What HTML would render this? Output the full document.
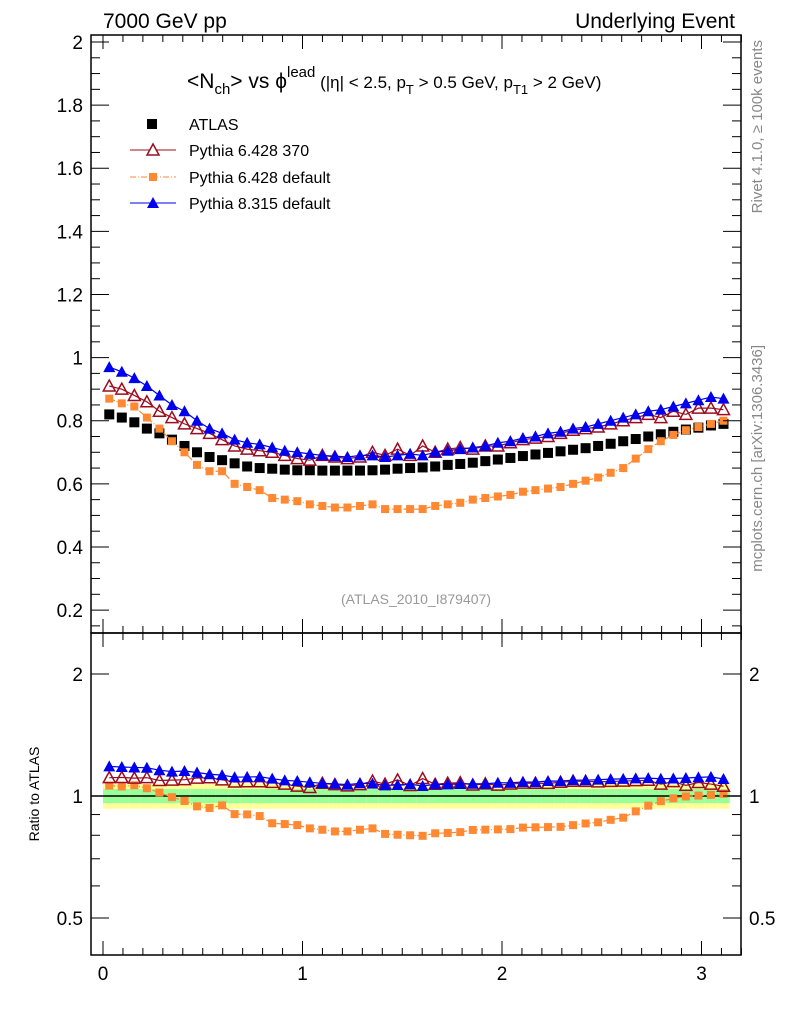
<!DOCTYPE html>
<html><head><meta charset="utf-8"><style>
body{margin:0;background:#fff;}
svg{display:block;font-family:"Liberation Sans",sans-serif;}
</style></head><body>
<svg id="c" width="786" height="1024" xmlns="http://www.w3.org/2000/svg"></svg>
<script>
const atlas=[0.82,0.81,0.795,0.775,0.76,0.74,0.72,0.70,0.685,0.675,0.665,0.655,0.65,0.648,0.645,0.643,0.643,0.642,0.642,0.642,0.642,0.643,0.645,0.648,0.65,0.652,0.655,0.66,0.663,0.667,0.672,0.677,0.682,0.688,0.693,0.698,0.703,0.708,0.713,0.72,0.727,0.735,0.742,0.75,0.757,0.765,0.772,0.778,0.785,0.79];
const p6def=[0.87,0.855,0.845,0.81,0.775,0.735,0.70,0.66,0.64,0.64,0.60,0.59,0.58,0.555,0.55,0.545,0.535,0.53,0.525,0.525,0.53,0.535,0.52,0.52,0.52,0.52,0.53,0.535,0.54,0.55,0.555,0.56,0.565,0.575,0.58,0.585,0.59,0.60,0.61,0.62,0.635,0.65,0.68,0.71,0.735,0.755,0.77,0.78,0.79,0.80];
const p8=[0.97,0.955,0.935,0.91,0.88,0.85,0.83,0.80,0.775,0.76,0.74,0.73,0.725,0.715,0.705,0.70,0.695,0.69,0.688,0.685,0.69,0.69,0.685,0.69,0.695,0.69,0.70,0.705,0.71,0.715,0.72,0.73,0.735,0.745,0.75,0.76,0.765,0.775,0.78,0.79,0.80,0.81,0.82,0.83,0.835,0.845,0.855,0.865,0.875,0.87];
const p6370=[0.91,0.90,0.88,0.86,0.83,0.81,0.79,0.775,0.76,0.74,0.72,0.71,0.705,0.70,0.69,0.68,0.675,0.69,0.685,0.68,0.685,0.70,0.69,0.71,0.69,0.72,0.70,0.71,0.715,0.71,0.72,0.72,0.73,0.74,0.745,0.75,0.76,0.77,0.775,0.78,0.79,0.80,0.81,0.82,0.81,0.83,0.82,0.84,0.84,0.835];
const bandInner=0.04, bandOuter=0.07;
const xTicks=[0,1,2,3];
const yTicks=[0.2,0.4,0.6,0.8,1,1.2,1.4,1.6,1.8,2];
const rTicks=[0.5,1,2];

const S=document.getElementById('c');const NS='http://www.w3.org/2000/svg';
function el(t,a,p){const e=document.createElementNS(NS,t);for(const k in a)e.setAttribute(k,a[k]);(p||S).appendChild(e);return e;}
const L=91,R=741,T=35,M=633,B=955;
const X=v=>103+v*199.5;
const Y=v=>42+(2-v)*315.6;
const RY=v=>796-Math.log2(v)*122;
const N=atlas.length,w=Math.PI/N;
const xs=atlas.map((_,i)=>(i+0.5)*w);

for(let i=0;i<N;i++){
 const x0=X(i*w),x1=X((i+1)*w);
 const b=el('rect',{x:x0,y:RY(1+bandOuter),width:x1-x0,height:RY(1-bandOuter)-RY(1+bandOuter),fill:'#ffff99'});
 
 const g=el('rect',{x:x0,y:RY(1+bandInner),width:x1-x0,height:RY(1-bandInner)-RY(1+bandInner),fill:'#99ff99'});
 
}
el('line',{x1:L,x2:R,y1:RY(1),y2:RY(1),stroke:'#000','stroke-width':1.5});

function marker(type,x,y,color){
 let e;
 if(type==='sq') e=el('rect',{x:x-5,y:y-5,width:10,height:10,fill:color});
 else if(type==='osq') e=el('rect',{x:x-4,y:y-4,width:8,height:8,fill:color});
 else if(type==='tri') e=el('polygon',{points:`${x},${y-6} ${x-6},${y+5} ${x+6},${y+5}`,fill:color});
 else e=el('polygon',{points:`${x},${y-6} ${x-6},${y+5} ${x+6},${y+5}`,fill:'none',stroke:color,'stroke-width':1.5});
 return e;
}
function series(vals,name,color,type,dash,ratio){
 const yf=ratio?RY:Y;
 const v=ratio?vals.map((d,i)=>d/atlas[i]):vals;
 if(color!=='#000'){
  const pl=el('polyline',{points:v.map((d,i)=>X(xs[i])+','+yf(d)).join(' '),fill:'none',stroke:color,'stroke-width':1.2,'stroke-dasharray':dash||'none'});
  
 }
 v.forEach((d,i)=>{const m=marker(type,X(xs[i]),yf(d),color);
  });
}
series(atlas,'atlas','#000','sq',null,false);
series(p6def,'pythia6-default','#ff8833','osq','6,2,1,2',false);
series(p6370,'pythia6-370','#9c0c1f','otri',null,false);
series(p8,'pythia8-default','#0000ee','tri',null,false);
series(p6def,'ratio-pythia6-default','#ff8833','osq','6,2,1,2',true);
series(p6370,'ratio-pythia6-370','#9c0c1f','otri',null,true);
series(p8,'ratio-pythia8-default','#0000ee','tri',null,true);

el('rect',{x:L,y:T,width:R-L,height:M-T,fill:'none',stroke:'#000','stroke-width':1.5});
el('rect',{x:L,y:M,width:R-L,height:B-M,fill:'none',stroke:'#000','stroke-width':1.5});

for(let v=-0.0;v<=3.2;v=Math.round((v+0.1)*10)/10){
 const big=Math.abs(v-Math.round(v))<1e-6; const len=big?14:7; const x=X(v);
 [[T,1],[M,-1],[M,1],[B,-1]].forEach(([y0,s])=>el('line',{x1:x,x2:x,y1:y0,y2:y0+s*len,stroke:'#000'}));
}
xTicks.forEach(v=>{const t=el('text',{x:X(v),y:980,'font-size':19,'text-anchor':'middle'});t.textContent=v;
 });
for(let v=0.15;v<=2.02;v=Math.round((v+0.05)*100)/100){
 const big=Math.abs(v*5-Math.round(v*5))<1e-6;const len=big?18:9;const y=Y(v);
 el('line',{x1:L,x2:L+len,y1:y,y2:y,stroke:'#000'});el('line',{x1:R,x2:R-len,y1:y,y2:y,stroke:'#000'});
}
yTicks.forEach(v=>{const t=el('text',{x:83,y:Y(v)+7,'font-size':19,'text-anchor':'end'});t.textContent=v;
 });
[0.5,0.6,0.7,0.8,0.9,1,2].forEach(v=>{const big=rTicks.includes(v);const len=big?18:9;const y=RY(v);
 el('line',{x1:L,x2:L+len,y1:y,y2:y,stroke:'#000'});el('line',{x1:R,x2:R-len,y1:y,y2:y,stroke:'#000'});});
rTicks.forEach(v=>{[[83,'end'],[749,'start']].forEach(([x,a])=>{const t=el('text',{x:x,y:RY(v)+7,'font-size':19,'text-anchor':a});t.textContent=v;
 });});
</script>
<svg width="786" height="1024" style="position:absolute;left:0;top:0;font-family:'Liberation Sans',sans-serif">
<text x="103" y="28" font-size="21">7000 GeV pp</text>
<text x="735" y="28" font-size="21" text-anchor="end">Underlying Event</text>
<text x="187" y="88" font-size="21">&lt;N<tspan font-size="15" dy="6">ch</tspan><tspan dy="-6">&gt; vs ϕ</tspan><tspan font-size="15" dy="-11">lead</tspan><tspan font-size="17" dy="11"> (|η| &lt; 2.5, p</tspan><tspan font-size="13" dy="6">T</tspan><tspan font-size="17" dy="-6"> &gt; 0.5 GeV, p</tspan><tspan font-size="13" dy="6">T1</tspan><tspan font-size="17" dy="-6"> &gt; 2 GeV)</tspan></text>
<g font-size="16">
<rect x="147" y="119" width="10" height="10" fill="#000"/><text x="189" y="130">ATLAS</text>
<line x1="130" x2="176" y1="150" y2="150" stroke="#9c0c1f"/><polygon points="153,144 147,155 159,155" fill="#fff" stroke="#9c0c1f" stroke-width="1.5"/><text x="189" y="156">Pythia 6.428 370</text>
<line x1="130" x2="176" y1="177" y2="177" stroke="#ff8833" stroke-dasharray="6,2,1,2"/><rect x="149" y="173" width="8" height="8" fill="#ff8833"/><text x="189" y="183">Pythia 6.428 default</text>
<line x1="130" x2="176" y1="203" y2="203" stroke="#0000ee"/><polygon points="153,197 147,208 159,208" fill="#0000ee"/><text x="189" y="209">Pythia 8.315 default</text>
</g>
<text x="416" y="604" font-size="14" fill="#999" text-anchor="middle">(ATLAS_2010_I879407)</text>
<text transform="translate(39,794) rotate(-90)" font-size="14" text-anchor="middle">Ratio to ATLAS</text>
<text transform="translate(762,40) rotate(-90)" font-size="15" fill="#888" text-anchor="end">Rivet 4.1.0, ≥ 100k events</text>
<text transform="translate(762,345) rotate(-90)" font-size="15" fill="#888" text-anchor="end">mcplots.cern.ch [arXiv:1306.3436]</text>
</svg>
</body></html>
